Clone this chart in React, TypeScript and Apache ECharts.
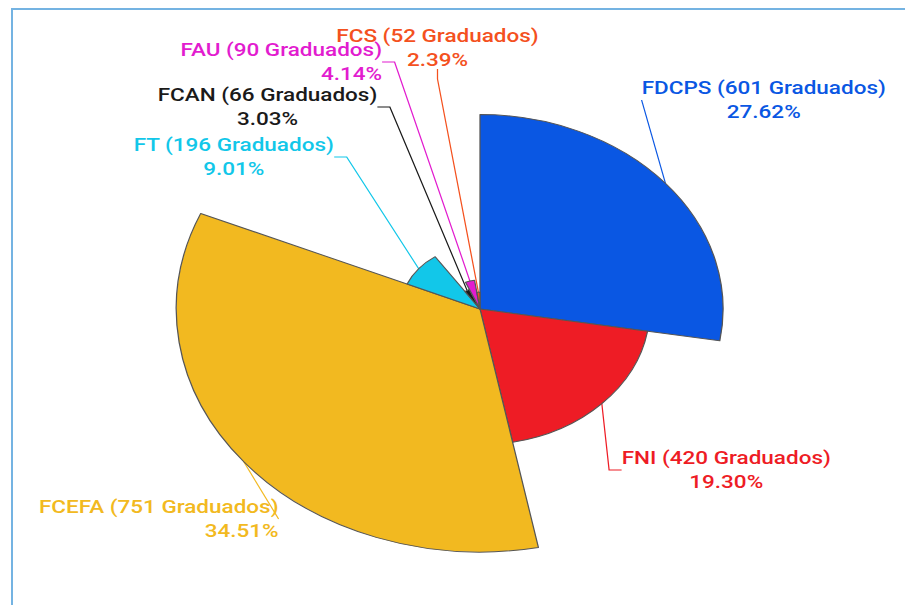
import React, { useEffect, useRef } from "react";
import * as echarts from "echarts";

const categories = ["FDCPS", "FNI", "FCEFA", "FT", "FCAN", "FAU", "FCS"];
const graduados = [601, 420, 751, 196, 66, 90, 52];
const unitLabel = "Graduados";

const sliceColors = ["#0a57e3", "#ee1c25", "#f2b920", "#12c7e9", "#1a1a1a", "#e21ccf", "#f4511e"];
// alignment of the percentage line inside each label block
const pctAlign = ["c", "c", "r", "c", "c", "r", "c"];
// label block centres (chart px, before the horizontal stretch)
const labelPos: [number, number][] = [
  [611, 100],
  [581, 470],
  [127, 519],
  [187, 157],
  [214, 107],
  [225, 62],
  [350, 48],
];

const STRETCH = 1.25;
const W = 905;
const H = 605;

export default function App() {
  const ref = useRef<HTMLDivElement>(null);
  useEffect(() => {
    if (!ref.current) return;
    const chart = echarts.init(ref.current, undefined, { renderer: "svg" });
    const total = graduados.reduce((a, b) => a + b, 0);
    const font = { fontFamily: "Roboto", fontSize: 18, fontWeight: 500, lineHeight: 24 };
    chart.setOption({
      animation: false,
      series: [
        {
          type: "pie",
          roseType: "radius",
          center: [384, 309],
          radius: [0, 243],
          startAngle: 90,
          clockwise: true,
          avoidLabelOverlap: false,
          itemStyle: { borderColor: "#555", borderWidth: 1 },
          label: {
            show: true,
            position: "outside",
            formatter: (p: any) => {
              const pct = ((p.value / total) * 100).toFixed(2) + "%";
              const key = "p" + pctAlign[p.dataIndex];
              return `{n|${p.name} (${p.value} ${unitLabel})}\n{${key}|${pct}}`;
            },
            rich: {
              n: { ...font, align: "center" },
              pc: { ...font, align: "center" },
              pr: { ...font, align: "right" },
              pl: { ...font, align: "left" },
            },
          },
          labelLine: { show: true, length: 10, length2: 10, lineStyle: { width: 1 } },
          labelLayout: (params: any) => {
            const pos = labelPos[params.dataIndex];
            return { x: pos[0], y: pos[1], align: "center", verticalAlign: "middle" };
          },
          data: categories.map((c, i) => ({
            name: c,
            value: graduados[i],
            itemStyle: { color: sliceColors[i] },
            label: { color: sliceColors[i] },
          })),
        },
      ],
    });
    return () => chart.dispose();
  }, []);

  return (
    <div style={{ position: "fixed", left: 0, top: 0, width: W, height: H, overflow: "hidden", background: "#fff" }}>
      <div
        style={{
          position: "absolute",
          left: 11,
          top: 8,
          width: W,
          height: H,
          borderLeft: "2px solid #74b3e2",
          borderTop: "2px solid #74b3e2",
        }}
      />
      <div
        ref={ref}
        style={{
          position: "absolute",
          left: 0,
          top: 0,
          width: W / STRETCH,
          height: H,
          transform: `scaleX(${STRETCH})`,
          transformOrigin: "0 0",
        }}
      />
    </div>
  );
}
